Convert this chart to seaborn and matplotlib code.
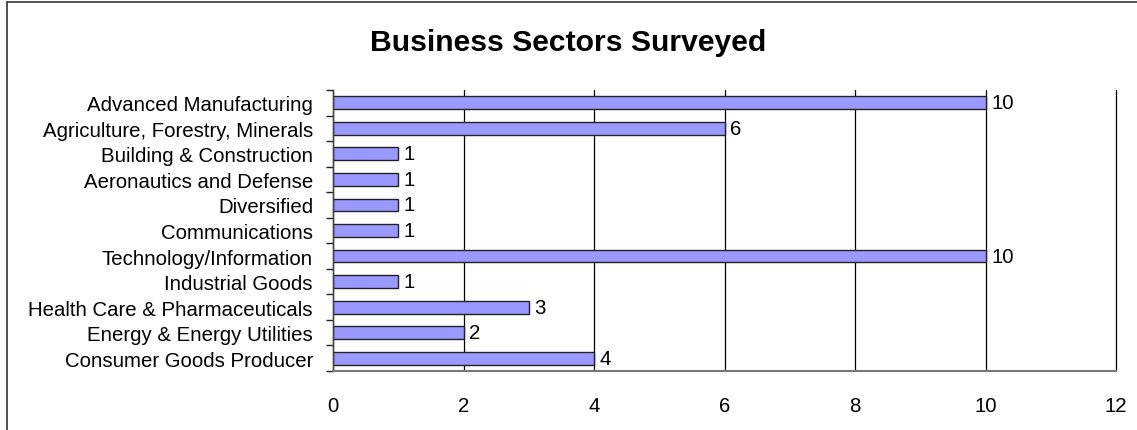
import matplotlib
matplotlib.use("Agg")
import matplotlib.pyplot as plt
import seaborn as sns
import pandas as pd
from matplotlib.ticker import FixedLocator
from matplotlib.lines import Line2D

sectors = [
    "Advanced Manufacturing",
    "Agriculture, Forestry, Minerals",
    "Building & Construction",
    "Aeronautics and Defense",
    "Diversified",
    "Communications",
    "Technology/Information",
    "Industrial Goods",
    "Health Care & Pharmaceuticals",
    "Energy & Energy Utilities",
    "Consumer Goods Producer",
]
counts = [10, 6, 1, 1, 1, 1, 10, 1, 3, 2, 4]
x_ticks = [0, 2, 4, 6, 8, 10, 12]

sns.set_theme(style="white")
plt.rcParams["font.family"] = ["Liberation Sans", "DejaVu Sans"]
plt.rcParams["text.color"] = "black"
plt.rcParams["xtick.color"] = "black"
plt.rcParams["ytick.color"] = "black"

df = pd.DataFrame({"sector": sectors, "count": counts})

W, H = 1137, 431
fig = plt.figure(figsize=(W / 100, H / 100), dpi=100)
ax = fig.add_axes([333 / W, 1 - 372 / H, (1116 - 333) / W, (372 - 91) / H])

sns.barplot(data=df, y="sector", x="count", orient="h", color="#9999FF",
            edgecolor="#222222", linewidth=1.0, width=0.5, saturation=1, ax=ax)

ax.set_xlim(0, 12)
ax.set_ylim(len(sectors) - 0.5, -0.5)
ax.set_xticks(x_ticks)
ax.set_xticklabels([str(t) for t in x_ticks], fontsize=14.7)
ax.tick_params(axis="x", direction="out", length=6, width=1, color="#222222", pad=12)
ax.tick_params(axis="y", which="major", length=0, labelsize=14.7, pad=14.4)
ax.yaxis.set_minor_locator(FixedLocator([i - 0.5 for i in range(len(sectors) + 1)]))
ax.tick_params(axis="y", which="minor", direction="out", length=5, width=1,
               color="#222222", left=True)
ax.set_xlabel("")
ax.set_ylabel("")

ax.grid(axis="x", color="black", linewidth=0.9)
for gl in ax.get_xgridlines():
    gl.set_clip_on(False)
ax.set_axisbelow(True)
for s in ["top", "right"]:
    ax.spines[s].set_visible(False)
ax.spines["left"].set_color("#444444")
ax.spines["bottom"].set_color("#777777")
ax.spines["left"].set_linewidth(1)
ax.spines["bottom"].set_linewidth(1.5)

for i, v in enumerate(counts):
    ax.annotate(str(v), xy=(v, i), xytext=(4, 0), textcoords="offset points",
                va="center", ha="left", fontsize=14.7)

fig.text(0.5, 1 - 43 / H, "Business Sectors Surveyed", ha="center", va="center",
         fontsize=21.7, fontweight="bold")

# figure frame (top and left edges)
fig.add_artist(Line2D([7 / W, 7 / W], [0, 1 - 3 / H], transform=fig.transFigure,
                      color="#333333", linewidth=1.2))
fig.add_artist(Line2D([7 / W, 1], [1 - 3 / H, 1 - 3 / H], transform=fig.transFigure,
                      color="#333333", linewidth=1.2))

fig.savefig("out.png", dpi=100)
